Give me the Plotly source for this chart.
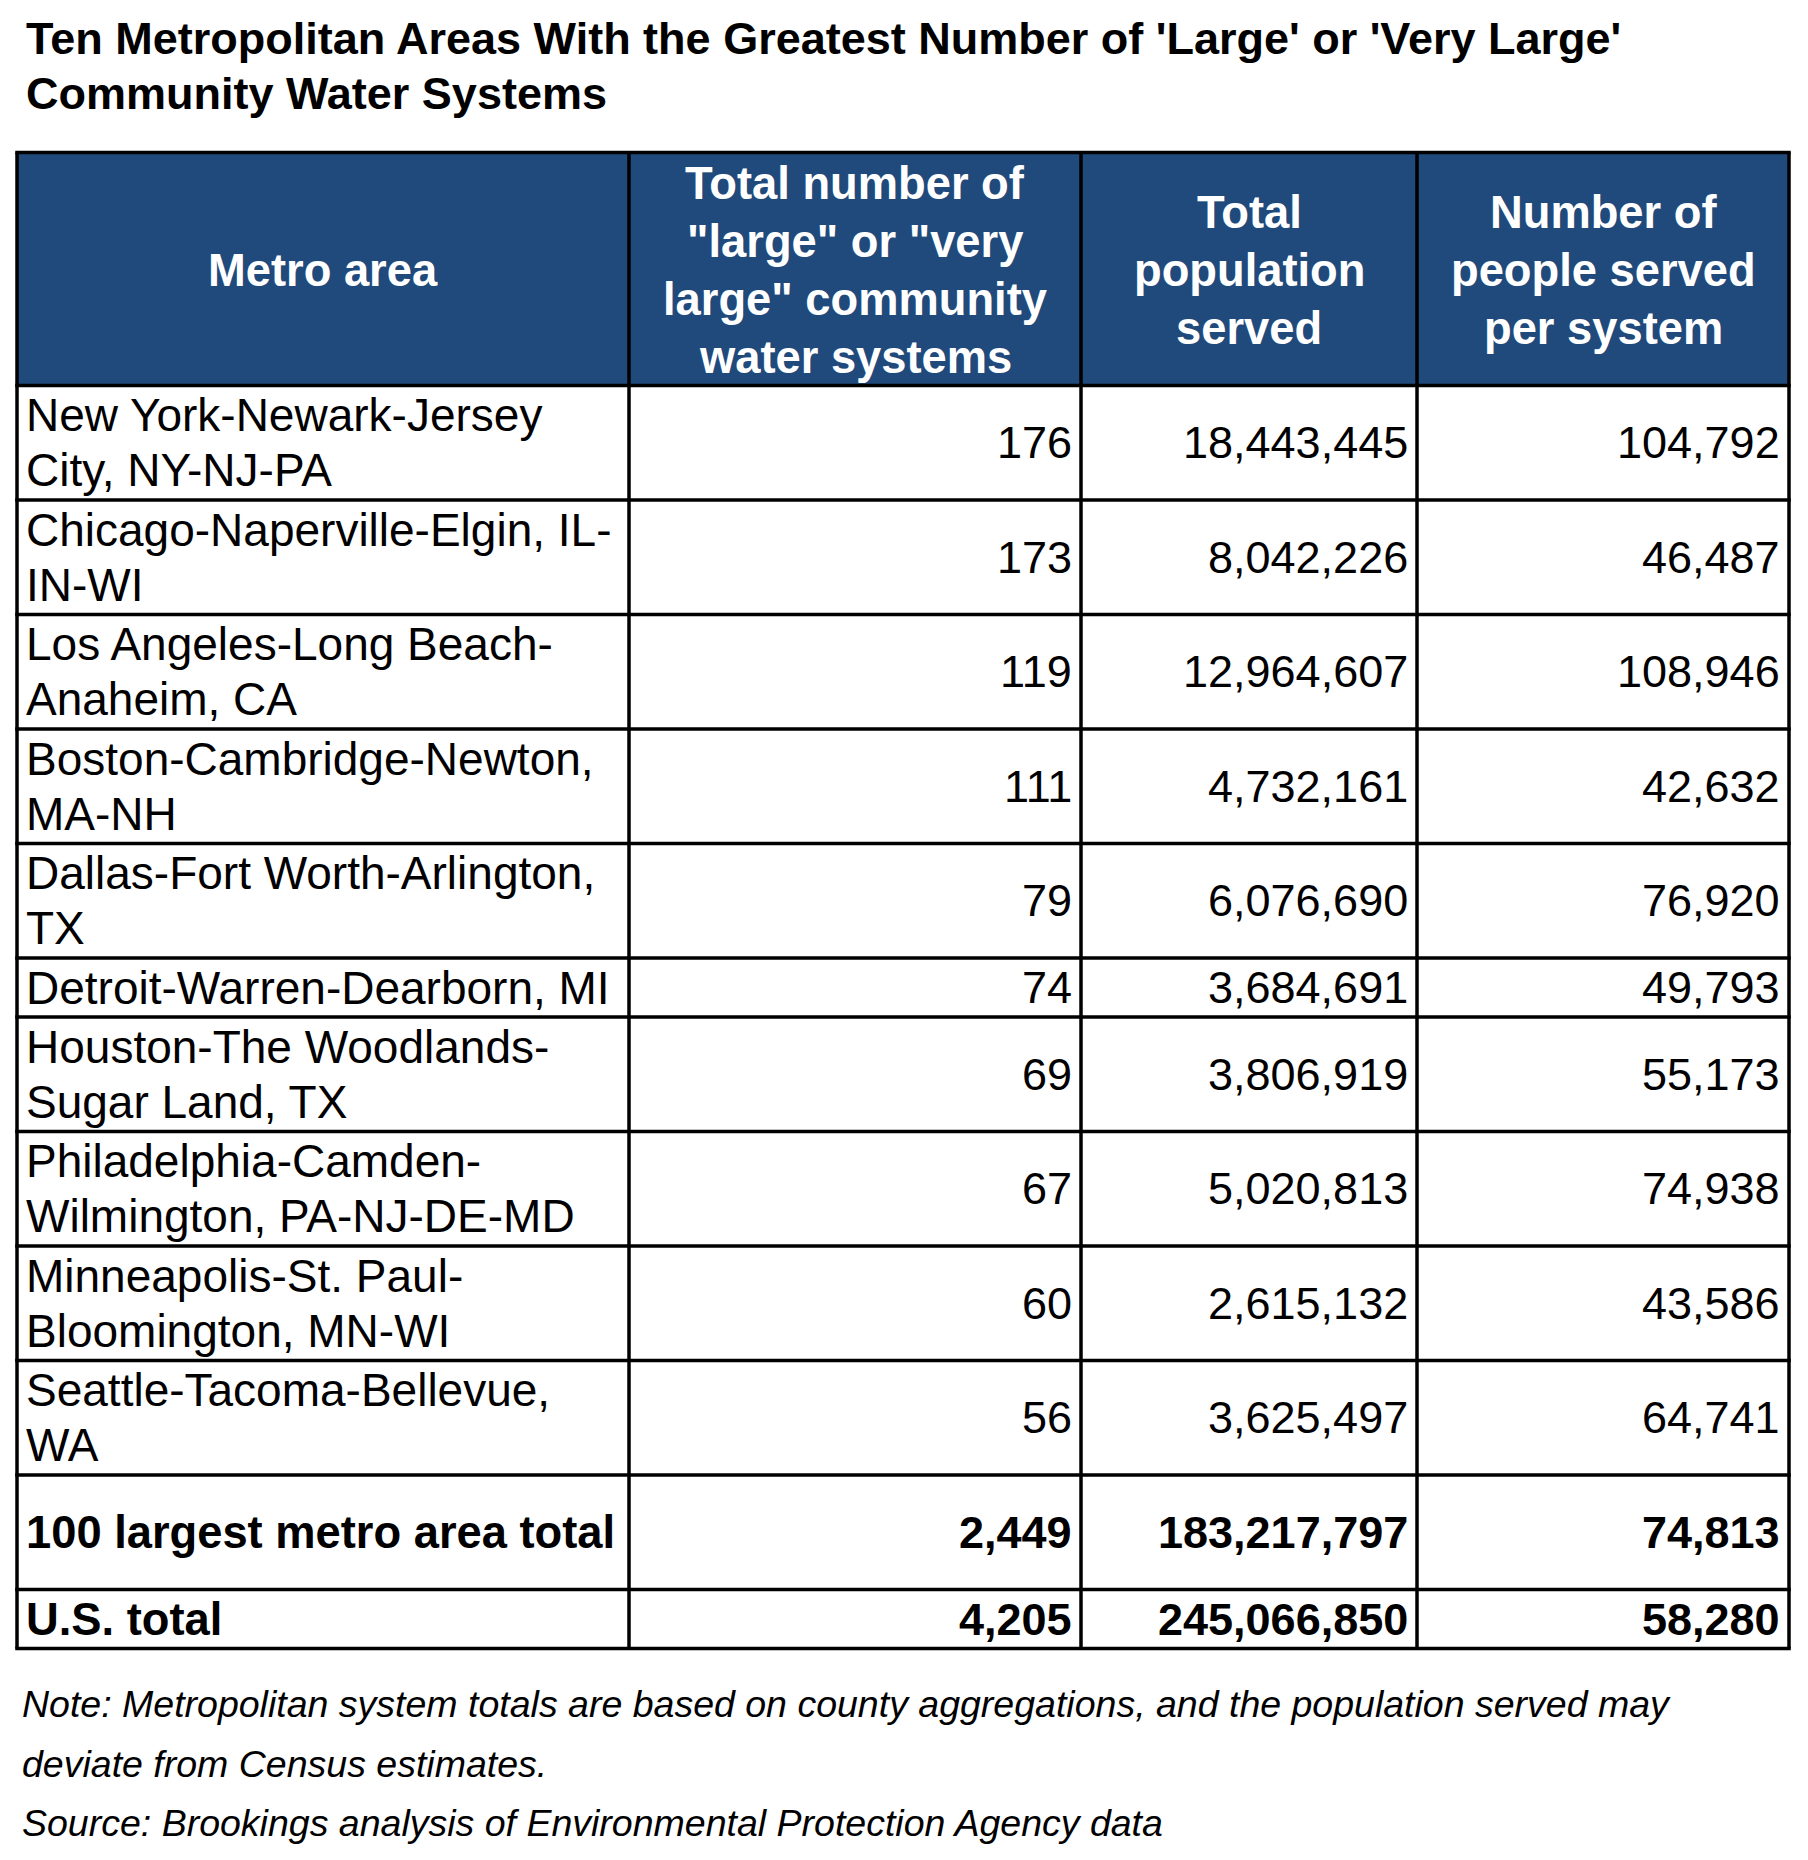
import plotly.graph_objects as go

# ---------------- data ----------------
title_lines = [
    "Ten Metropolitan Areas With the Greatest Number of 'Large' or 'Very Large'",
    "Community Water Systems",
]
headers = [
    "Metro area",
    'Total number of<br>"large" or "very<br>large" community<br>water systems',
    "Total<br>population<br>served",
    "Number of<br>people served<br>per system",
]
metro_areas = [
    "New York-Newark-Jersey<br>City, NY-NJ-PA",
    "Chicago-Naperville-Elgin, IL-<br>IN-WI",
    "Los Angeles-Long Beach-<br>Anaheim, CA",
    "Boston-Cambridge-Newton,<br>MA-NH",
    "Dallas-Fort Worth-Arlington,<br>TX",
    "Detroit-Warren-Dearborn, MI",
    "Houston-The Woodlands-<br>Sugar Land, TX",
    "Philadelphia-Camden-<br>Wilmington, PA-NJ-DE-MD",
    "Minneapolis-St. Paul-<br>Bloomington, MN-WI",
    "Seattle-Tacoma-Bellevue,<br>WA",
]
num_systems = [176, 173, 119, 111, 79, 74, 69, 67, 60, 56]
population_served = [18443445, 8042226, 12964607, 4732161, 6076690,
                     3684691, 3806919, 5020813, 2615132, 3625497]
people_per_system = [104792, 46487, 108946, 42632, 76920,
                     49793, 55173, 74938, 43586, 64741]

total_labels = ["100 largest metro area total", "U.S. total"]
total_systems = [2449, 4205]
total_population = [183217797, 245066850]
total_per_system = [74813, 58280]

notes = [
    "Note: Metropolitan system totals are based on county aggregations, and the population served may",
    "deviate from Census estimates.",
    "Source: Brookings analysis of Environmental Protection Agency data",
]

# ---------------- layout constants ----------------
W, H = 1808, 1860
OFF = 8  # page body margin: data coordinates == page pixels
FONT = "Arial, Liberation Sans, sans-serif"
HEADER_BG = "#214A7C"
col_edges = [17, 629, 1081, 1417, 1789]
table_top = 152.5
header_h = 233
line_h = 55.5
row_pad = 3.5
body_line_gap = 55
header_line_gap = 58
pad_left = 7
pad_right = 7
fs_label = 46
fs_label_bold = 45.3
fs_num = 45
fs_head = 45.3

# rows: (label, values, bold, height_lines)
rows = []
for m, a, b, c in zip(metro_areas, num_systems, population_served, people_per_system):
    rows.append((m, [a, b, c], False, len(m.split("<br>"))))
total_height_lines = [2, 1]
for lab, a, b, c, hl in zip(total_labels, total_systems, total_population, total_per_system, total_height_lines):
    rows.append((lab, [a, b, c], True, hl))

fig = go.Figure()
shapes = []
annotations = []


def add_lines(text, x, yc, xanchor, gap, color="black", bold=False, size=45):
    parts = text.split("<br>")
    n = len(parts)
    for i, p in enumerate(parts):
        y = yc + (i - (n - 1) / 2) * gap
        t = "<b>" + p + "</b>" if bold else p
        annotations.append(dict(
            x=x, y=y, xref="x", yref="y", text=t, showarrow=False,
            xanchor=xanchor, yanchor="middle",
            font=dict(family=FONT, size=size, color=color),
        ))


# header background
header_bottom = table_top + header_h
shapes.append(dict(type="rect", xref="x", yref="y", x0=col_edges[0], x1=col_edges[-1],
                   y0=table_top, y1=header_bottom, fillcolor=HEADER_BG, line=dict(width=0), layer="below"))

for j, h in enumerate(headers):
    xc = (col_edges[j] + col_edges[j + 1]) / 2
    add_lines(h, xc, (table_top + header_bottom) / 2 + 1, "center", header_line_gap,
              color="white", bold=True, size=fs_head)

# body rows
y = header_bottom
row_bounds = [table_top, header_bottom]
for label, vals, bold, hl in rows:
    rh = hl * line_h + row_pad
    yc = y + rh / 2
    add_lines(label, col_edges[0] + pad_left, yc, "left", body_line_gap, bold=bold,
              size=fs_label_bold if bold else fs_label)
    for j, v in enumerate(vals):
        add_lines(f"{v:,}", col_edges[j + 2] - pad_right, yc, "right", body_line_gap, bold=bold, size=fs_num)
    y += rh
    row_bounds.append(y)
table_bottom = y

# grid lines
lw = 3.5
for yb in row_bounds:
    shapes.append(dict(type="line", xref="x", yref="y", x0=col_edges[0] - lw / 2, x1=col_edges[-1] + lw / 2,
                       y0=yb, y1=yb, line=dict(color="black", width=lw)))
for xe in col_edges:
    shapes.append(dict(type="line", xref="x", yref="y", x0=xe, x1=xe,
                       y0=table_top, y1=table_bottom, line=dict(color="black", width=lw)))

# title
title_baselines = [54, 109]
for t, b in zip(title_lines, title_baselines):
    annotations.append(dict(x=24, y=b - 16, xref="x", yref="y", text="<b>" + t + "</b>", showarrow=False,
                            xanchor="left", yanchor="middle", font=dict(family=FONT, size=45, color="black")))

# notes
note_baselines = [1717, 1777, 1836]
for t, b in zip(notes, note_baselines):
    annotations.append(dict(x=20, y=b - 13, xref="x", yref="y", text="<i>" + t + "</i>", showarrow=False,
                            xanchor="left", yanchor="middle", font=dict(family=FONT, size=37.5, color="black")))

fig.update_layout(
    width=W, height=H,
    margin=dict(l=0, r=0, t=0, b=0),
    paper_bgcolor="white", plot_bgcolor="white",
    xaxis=dict(range=[OFF, W + OFF], visible=False, fixedrange=True),
    yaxis=dict(range=[H + OFF, OFF], visible=False, fixedrange=True),
    shapes=shapes, annotations=annotations, showlegend=False,
)

fig.write_html("out.html")
